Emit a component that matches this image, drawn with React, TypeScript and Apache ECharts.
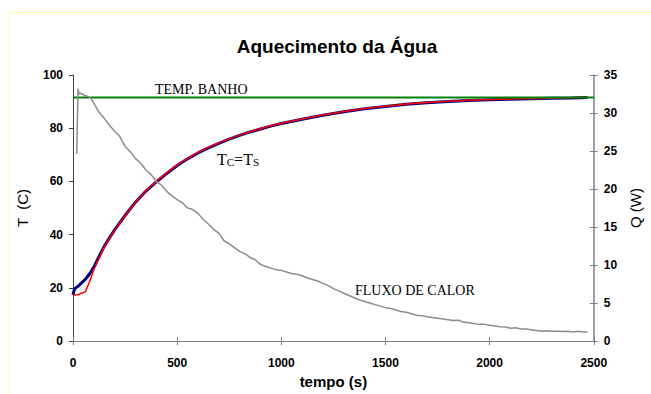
import React, { useEffect, useRef } from "react";
import * as echarts from "echarts";

const titleText = "Aquecimento da Água";
const xName = "tempo (s)";
const yLeftName = "T  (C)";
const yRightName = "Q (W)";

const tempTime = [0, 5, 10, 20, 30, 40, 50, 60, 80, 100, 125, 150, 175, 200, 250, 300, 350, 400, 450, 500, 550, 600, 650, 700, 750, 800, 850, 900, 950, 1000, 1100, 1200, 1300, 1400, 1500, 1600, 1700, 1800, 1900, 2000, 2100, 2200, 2300, 2400, 2470];
const tempC = [17.4, 19.0, 19.8, 20.4, 21.0, 21.8, 22.5, 23.3, 25.3, 27.8, 31.8, 35.6, 38.8, 41.8, 47.2, 52.2, 56.4, 59.8, 63.0, 66.0, 68.5, 70.7, 72.6, 74.3, 75.9, 77.3, 78.6, 79.7, 80.8, 81.8, 83.4, 84.9, 86.2, 87.3, 88.2, 89.0, 89.6, 90.0, 90.4, 90.7, 90.9, 91.1, 91.3, 91.4, 91.5];
const tempS = [17.2, 17.2, 17.3, 17.4, 17.6, 18.0, 18.2, 18.6, 22.4, 26.8, 31.2, 35.2, 38.6, 41.6, 47.1, 52.2, 56.5, 60.0, 63.2, 66.2, 68.7, 70.9, 72.8, 74.5, 76.0, 77.4, 78.7, 79.8, 80.9, 81.9, 83.5, 85.0, 86.3, 87.4, 88.3, 89.1, 89.7, 90.1, 90.5, 90.8, 91.0, 91.2, 91.3, 91.5, 91.6];

const bathTime = [0, 2500];
const bathTemp = [91.5, 91.5];

const fluxTime = [18, 24, 30, 40, 55, 70, 85, 100, 125, 150, 175, 200, 225, 250, 275, 300, 325, 350, 375, 400, 425, 450, 475, 500, 525, 550, 575, 600, 625, 650, 675, 700, 725, 750, 775, 800, 825, 850, 875, 900, 925, 950, 975, 1000, 1025, 1050, 1075, 1100, 1125, 1150, 1175, 1200, 1225, 1250, 1275, 1300, 1325, 1350, 1375, 1400, 1425, 1450, 1475, 1500, 1525, 1550, 1575, 1600, 1625, 1650, 1675, 1700, 1725, 1750, 1775, 1800, 1825, 1850, 1875, 1900, 1925, 1950, 1975, 2000, 2025, 2050, 2075, 2100, 2125, 2150, 2175, 2200, 2225, 2250, 2275, 2300, 2325, 2350, 2375, 2400, 2425, 2450, 2470];
const fluxQ = [24.6, 33.2, 32.5, 32.6, 32.3, 32.2, 32.0, 31.3, 30.1, 29.3, 28.4, 27.6, 26.9, 25.6, 24.9, 24.0, 23.4, 22.5, 21.9, 21.0, 20.5, 19.7, 19.1, 18.6, 18.2, 17.5, 17.3, 16.8, 16.0, 15.4, 14.7, 14.2, 13.2, 12.8, 12.3, 11.8, 11.5, 11.0, 10.7, 10.1, 9.8, 9.6, 9.4, 9.3, 9.1, 8.9, 8.8, 8.6, 8.3, 8.1, 7.9, 7.6, 7.3, 6.9, 6.6, 6.3, 6.0, 5.7, 5.4, 5.2, 5.0, 4.8, 4.6, 4.4, 4.3, 4.1, 3.9, 3.8, 3.6, 3.4, 3.35, 3.2, 3.1, 3.0, 2.9, 2.8, 2.7, 2.75, 2.5, 2.4, 2.3, 2.2, 2.2, 2.1, 2.0, 1.9, 1.85, 1.7, 1.75, 1.6, 1.6, 1.5, 1.4, 1.3, 1.35, 1.3, 1.3, 1.25, 1.3, 1.2, 1.3, 1.2, 1.2];

const zip = (xs: number[], ys: number[]) => xs.map((x, i) => [x, ys[i]]);

export default function App() {
  const ref = useRef<HTMLDivElement>(null);
  useEffect(() => {
    if (!ref.current) return;
    const chart = echarts.init(ref.current, undefined, { renderer: "svg" });
    const fmt = (v: number) => String(v);
    const labelStyle = { color: "#000", fontFamily: "Liberation Sans, Arial", fontWeight: "bold" as const, fontSize: 12, formatter: fmt };
    const serif = "Liberation Serif, Times New Roman";
    chart.setOption({
      animation: false,
      backgroundColor: "#fff",
      title: {
        text: titleText,
        left: 332,
        textAlign: "center",
        top: 32,
        textStyle: { fontFamily: "Liberation Sans, Arial", fontWeight: "bold", fontSize: 19, color: "#000" },
      },
      grid: { left: 73, right: 52, top: 75, bottom: 49, containLabel: false },
      xAxis: [
        {
          type: "value",
          min: 0,
          max: 2500,
          interval: 500,
          name: xName,
          nameLocation: "middle",
          nameGap: 32,
          nameTextStyle: { color: "#000", fontFamily: "Liberation Sans, Arial", fontWeight: "bold", fontSize: 15 },
          axisLine: { show: true, onZero: false, lineStyle: { color: "#808080", width: 1 } },
          axisTick: { show: true, length: 4, lineStyle: { color: "#808080" } },
          axisLabel: { ...labelStyle, margin: 16 },
          splitLine: { show: false },
        },
        {
          type: "value",
          min: 0,
          max: 2500,
          interval: 500,
          position: "bottom",
          axisLine: { show: false, onZero: false },
          axisTick: { show: true, inside: true, length: 4, lineStyle: { color: "#808080" } },
          axisLabel: { show: false },
          splitLine: { show: false },
        },
      ],
      yAxis: [
        {
          type: "value",
          min: 0,
          max: 100,
          interval: 20,
          position: "left",
          name: yLeftName,
          nameLocation: "middle",
          nameRotate: 90,
          nameGap: 43,
          nameTextStyle: { color: "#000", fontFamily: "Liberation Sans, Arial", fontSize: 15 },
          axisLine: { show: true, onZero: false, lineStyle: { color: "#404040", width: 1 } },
          axisTick: { show: true, length: 4, lineStyle: { color: "#404040" } },
          axisLabel: { ...labelStyle, margin: 10 },
          splitLine: { show: false },
        },
        {
          type: "value",
          min: 0,
          max: 35,
          interval: 5,
          position: "right",
          name: yRightName,
          nameLocation: "middle",
          nameRotate: 90,
          nameGap: 33,
          nameTextStyle: { color: "#000", fontFamily: "Liberation Sans, Arial", fontSize: 15 },
          axisLine: { show: true, onZero: false, lineStyle: { color: "#808080", width: 1.5 } },
          axisTick: { show: true, length: 4, lineStyle: { color: "#808080" } },
          axisLabel: { ...labelStyle, margin: 10 },
          splitLine: { show: false },
        },
        {
          type: "value",
          min: 0,
          max: 35,
          interval: 5,
          position: "right",
          axisLine: { show: false, onZero: false },
          axisTick: { show: true, inside: true, length: 4, lineStyle: { color: "#808080" } },
          axisLabel: { show: false },
          splitLine: { show: false },
        },
      ],
      series: [
        {
          type: "line",
          name: "Tc",
          xAxisIndex: 0,
          yAxisIndex: 0,
          data: zip(tempTime, tempC),
          showSymbol: false,
          lineStyle: { color: "#000080", width: 3 },
          z: 2,
        },
        {
          type: "line",
          name: "Ts",
          xAxisIndex: 0,
          yAxisIndex: 0,
          data: zip(tempTime, tempS),
          showSymbol: false,
          lineStyle: { color: "#ff0000", width: 1.5 },
          z: 3,
        },
        {
          type: "line",
          name: "Banho",
          xAxisIndex: 0,
          yAxisIndex: 0,
          data: zip(bathTime, bathTemp),
          showSymbol: false,
          lineStyle: { color: "#008000", width: 2 },
          z: 4,
        },
        {
          type: "line",
          name: "Fluxo",
          xAxisIndex: 0,
          yAxisIndex: 1,
          data: zip(fluxTime, fluxQ),
          showSymbol: false,
          lineStyle: { color: "#8c8c8c", width: 1.5 },
          z: 5,
        },
      ],
      graphic: [
        { type: "line", shape: { x1: 8, y1: 12.5, x2: 651, y2: 12.5 }, style: { stroke: "#ffff99", lineWidth: 1 }, silent: true },
        { type: "line", shape: { x1: 9.5, y1: 12, x2: 9.5, y2: 394 }, style: { stroke: "#ffff99", lineWidth: 1 }, silent: true },
        {
          type: "text",
          left: 155,
          top: 82,
          style: { text: "TEMP. BANHO", fontFamily: serif, fontSize: 14, fill: "#000" },
        },
        {
          type: "text",
          left: 217,
          top: 151,
          style: {
            text: "{b|T}{s|C}{b|=T}{s|S}",
            fontFamily: serif,
            fill: "#000",
            rich: {
              b: { fontFamily: serif, fontSize: 16, fill: "#000", verticalAlign: "bottom" },
              s: { fontFamily: serif, fontSize: 11, fill: "#000", verticalAlign: "bottom" },
            },
          },
        },
        {
          type: "text",
          left: 355,
          top: 283,
          style: { text: "FLUXO DE CALOR", fontFamily: serif, fontSize: 14, fill: "#000" },
        },
      ],
    });
    return () => chart.dispose();
  }, []);
  return <div ref={ref} style={{ position: "fixed", left: 0, top: 0, width: 651, height: 394 }} />;
}
